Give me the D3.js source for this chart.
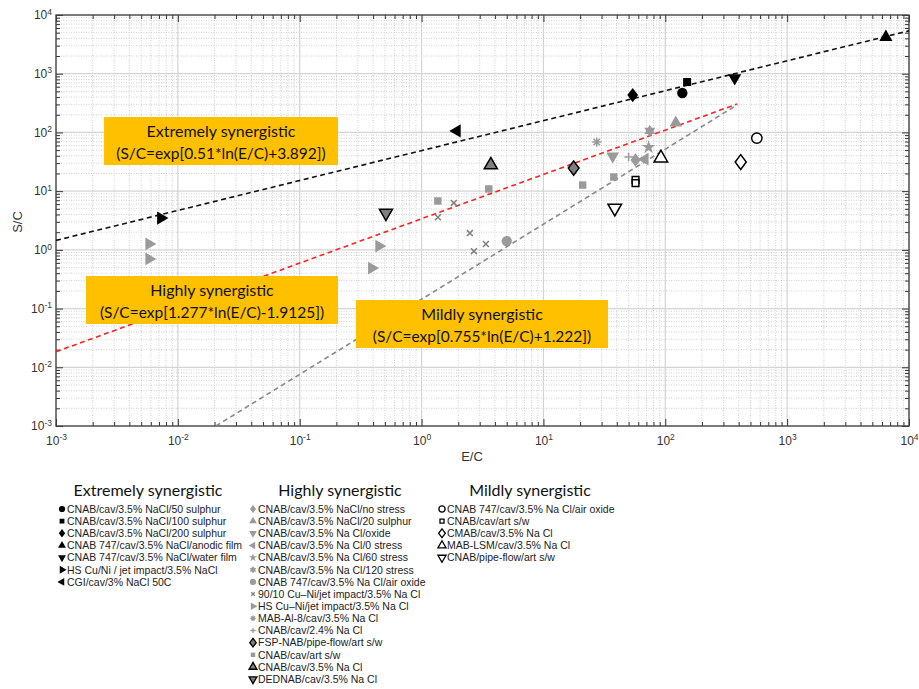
<!DOCTYPE html>
<html lang="en">
<meta charset="utf-8">
<head>
<script src="https://d3js.org/d3.v7.min.js"></script>
<style>
  body { margin: 0; background: #fff; }
  svg { display: block; }
  .tick text { font-family: "Liberation Sans", Arial, sans-serif; }
</style>
</head>
<body>
<svg id="chart" width="919" height="689"></svg>
<script>
// ---- data: [E/C, S/C] ----
// Extremely synergistic
var exS50 = [[138, 469]];
var exS100 = [[151, 723]];
var exS200 = [[54, 433]];
var exAnodic = [[6460, 4200]];
var exWater = [[371, 845]];
var exHsJet = [[0.00726, 3.48]];
var exCgi = [[1.95, 106]];
// Highly synergistic
var hiNoStress = [[57, 34]];
var hiS20 = [[122, 145]];
var hiOxide = [[37, 39.6]];
var hiStress0 = [[68, 35]];
var hiStress60 = [[73, 56]];
var hiStress120 = [[74.6, 106]];
var hiAirOxide = [[5.0, 1.41]];
var hiCuNi = [[1.36, 3.6], [1.84, 6.3], [2.49, 1.93], [3.37, 1.26], [2.69, 0.95]];
var hiHsCuNi = [[0.0058, 1.26], [0.0058, 0.70], [0.447, 1.16], [0.39, 0.49]];
var hiMab = [[27.4, 68.6]];
var hiNa24 = [[50, 38]];
var hiFsp = [[17.7, 24.7]];
var hiArt = [[1.36, 6.8], [3.56, 10.9], [21, 12.7], [37.8, 17.4]];
var hiNaCl = [[3.7, 27.9]];
var hiDed = [[0.51, 4.24]];
// Mildly synergistic
var miAirOxide = [[564, 80]];
var miArt = [[57, 15.5], [57, 13.7]];
var miCmab = [[416, 31.3]];
var miMabLsm = [[92, 36.6]];
var miPipe = [[38.5, 5.15]];

// fitted lines (end points)
var lineBlack = [[0.001, 1.45], [10000, 5370]];
var lineRed = [[0.001, 0.0184], [390, 306]];
var lineGray = [[0.0205, 0.001], [390, 296]];

var xTicks = [1e-3, 1e-2, 1e-1, 1e0, 1e1, 1e2, 1e3, 1e4];
var yTicks = [1e-3, 1e-2, 1e-1, 1e0, 1e1, 1e2, 1e3, 1e4];

var boxTexts = [
  ["Extremely synergistic", "(S/C=exp[0.51*ln(E/C)+3.892])"],
  ["Highly synergistic", "(S/C=exp[1.277*ln(E/C)-1.9125])"],
  ["Mildly synergistic", "(S/C=exp[0.755*ln(E/C)+1.222])"]
];

// ---- custom marker shapes ----
var hexagram = { draw: function(c, size) {
  var r = Math.sqrt(size) * 0.72, ri = r * 0.58;
  for (var i = 0; i < 12; i++) {
    var a = Math.PI / 6 * i - Math.PI / 2, rr = i % 2 ? ri : r;
    if (i === 0) c.moveTo(rr * Math.cos(a), rr * Math.sin(a));
    else c.lineTo(rr * Math.cos(a), rr * Math.sin(a));
  }
  c.closePath();
}};
var diamond = { draw: function(c, size) {
  var h = Math.sqrt(size) * 0.8, w = h * 0.75;
  c.moveTo(0, -h); c.lineTo(w, 0); c.lineTo(0, h); c.lineTo(-w, 0); c.closePath();
}};
var xMark = { draw: function(c, size) {
  var r = Math.sqrt(size) * 0.42;
  c.moveTo(-r, -r); c.lineTo(r, r); c.moveTo(-r, r); c.lineTo(r, -r);
}};
var plusMark = { draw: function(c, size) {
  var r = Math.sqrt(size) * 0.55;
  c.moveTo(-r, 0); c.lineTo(r, 0); c.moveTo(0, -r); c.lineTo(0, r);
}};
var asterisk = { draw: function(c, size) {
  var r = Math.sqrt(size) * 0.55;
  for (var i = 0; i < 4; i++) {
    var a = Math.PI / 4 * i;
    c.moveTo(-r * Math.cos(a), -r * Math.sin(a)); c.lineTo(r * Math.cos(a), r * Math.sin(a));
  }
}};

var BLK = "#000", GRY = "#9a9a9a", DGRY = "#7f7f7f";

// group, label, points, shape, rotation, fill, stroke, size
var series = [
  [0, "CNAB/cav/3.5% NaCl/50 sulphur", exS50, d3.symbolCircle, 0, BLK, "none", 85],
  [0, "CNAB/cav/3.5% NaCl/100 sulphur", exS100, d3.symbolSquare, 0, BLK, "none", 64],
  [0, "CNAB/cav/3.5% NaCl/200 sulphur", exS200, diamond, 0, BLK, "none", 80],
  [0, "CNAB 747/cav/3.5% NaCl/anodic film", exAnodic, d3.symbolTriangle, 0, BLK, "none", 75],
  [0, "CNAB 747/cav/3.5% NaCl/water film", exWater, d3.symbolTriangle, 180, BLK, "none", 75],
  [0, "HS Cu/Ni / jet impact/3.5% NaCl", exHsJet, d3.symbolTriangle, 90, BLK, "none", 75],
  [0, "CGI/cav/3% NaCl 50C", exCgi, d3.symbolTriangle, -90, BLK, "none", 75],
  [1, "CNAB/cav/3.5% NaCl/no stress", hiNoStress, diamond, 0, GRY, "none", 70],
  [1, "CNAB/cav/3.5% NaCl/20 sulphur", hiS20, d3.symbolTriangle, 0, GRY, "none", 70],
  [1, "CNAB/cav/3.5% Na Cl/oxide", hiOxide, d3.symbolTriangle, 180, GRY, "none", 70],
  [1, "CNAB/cav/3.5% Na Cl/0 stress", hiStress0, d3.symbolTriangle, -90, GRY, "none", 70],
  [1, "CNAB/cav/3.5% Na Cl/60 stress", hiStress60, d3.symbolStar, 0, GRY, "none", 60],
  [1, "CNAB/cav/3.5% Na Cl/120 stress", hiStress120, hexagram, 0, GRY, "none", 75],
  [1, "CNAB 747/cav/3.5% Na Cl/air oxide", hiAirOxide, d3.symbolCircle, 0, GRY, "none", 85],
  [1, "90/10 Cu\u2013Ni/jet impact/3.5% Na Cl", hiCuNi, xMark, 0, "none", DGRY, 50],
  [1, "HS Cu\u2013Ni/jet impact/3.5% Na Cl", hiHsCuNi, d3.symbolTriangle, 90, GRY, "none", 70],
  [1, "MAB-Al-8/cav/3.5% Na Cl", hiMab, asterisk, 0, "none", GRY, 70],
  [1, "CNAB/cav/2.4% Na Cl", hiNa24, plusMark, 0, "none", GRY, 60],
  [1, "FSP-NAB/pipe-flow/art s/w", hiFsp, diamond, 0, DGRY, BLK, 80],
  [1, "CNAB/cav/art s/w", hiArt, d3.symbolSquare, 0, GRY, "none", 55],
  [1, "CNAB/cav/3.5% Na Cl", hiNaCl, d3.symbolTriangle, 0, DGRY, BLK, 75],
  [1, "DEDNAB/cav/3.5% Na Cl", hiDed, d3.symbolTriangle, 180, DGRY, BLK, 75],
  [2, "CNAB 747/cav/3.5% Na Cl/air oxide", miAirOxide, d3.symbolCircle, 0, "#fff", BLK, 85],
  [2, "CNAB/cav/art s/w", miArt, d3.symbolSquare, 0, "#fff", BLK, 45],
  [2, "CMAB/cav/3.5% Na Cl", miCmab, diamond, 0, "#fff", BLK, 85],
  [2, "MAB-LSM/cav/3.5% Na Cl", miMabLsm, d3.symbolTriangle, 0, "#fff", BLK, 80],
  [2, "CNAB/pipe-flow/art s/w", miPipe, d3.symbolTriangle, 180, "#fff", BLK, 80]
];

var svg = d3.select("#chart");
var pL = 56, pR = 909, pT = 15, pB = 426;

var x = d3.scaleLog().domain([1e-3, 1e4]).range([pL, pR]);
var y = d3.scaleLog().domain([1e-3, 1e4]).range([pB, pT]);

svg.append("rect").attr("width", 919).attr("height", 689).attr("fill", "#fff");

// minor ticks / grid values
var minors = [];
for (var e = -3; e < 4; e++) for (var m = 2; m <= 9; m++) minors.push(m * Math.pow(10, e));

var grid = svg.append("g");
grid.selectAll(".gxm").data(minors).enter().append("line")
  .attr("x1", function(d) { return x(d); }).attr("x2", function(d) { return x(d); })
  .attr("y1", pT).attr("y2", pB)
  .attr("stroke", "#c4c4c4").attr("stroke-width", 0.8).attr("stroke-dasharray", "1,1.5");
grid.selectAll(".gym").data(minors).enter().append("line")
  .attr("y1", function(d) { return y(d); }).attr("y2", function(d) { return y(d); })
  .attr("x1", pL).attr("x2", pR)
  .attr("stroke", "#c4c4c4").attr("stroke-width", 0.8).attr("stroke-dasharray", "1,1.5");
grid.selectAll(".gx").data(xTicks).enter().append("line")
  .attr("x1", function(d) { return x(d); }).attr("x2", function(d) { return x(d); })
  .attr("y1", pT).attr("y2", pB)
  .attr("stroke", "#d4d4d4").attr("stroke-width", 1.2);
grid.selectAll(".gy").data(yTicks).enter().append("line")
  .attr("y1", function(d) { return y(d); }).attr("y2", function(d) { return y(d); })
  .attr("x1", pL).attr("x2", pR)
  .attr("stroke", "#d4d4d4").attr("stroke-width", 1.2);

// axes with inward ticks
function styleAxis(g) {
  g.select(".domain").remove();
  g.selectAll(".tick line").attr("stroke", "#333").attr("stroke-width", 1);
}
function supLabels(g) {
  g.selectAll(".tick text").each(function(d) {
    var t = d3.select(this).text("").attr("fill", "#333").attr("font-size", 12);
    t.append("tspan").text("10");
    t.append("tspan").text(Math.round(Math.log10(d)))
      .attr("font-size", 8.5).attr("dy", "-0.55em");
  });
}

svg.append("g").attr("transform", "translate(0," + pB + ")")
  .call(d3.axisBottom(x).tickValues(minors).tickSize(-4).tickFormat("")).call(styleAxis);
svg.append("g").attr("transform", "translate(0," + pB + ")")
  .call(d3.axisBottom(x).tickValues(xTicks).tickSize(-7).tickPadding(10).tickFormat(function() { return ""; }))
  .call(styleAxis).call(supLabels);
svg.append("g").attr("transform", "translate(0," + pT + ")")
  .call(d3.axisTop(x).tickValues(minors).tickSize(-4).tickFormat("")).call(styleAxis);
svg.append("g").attr("transform", "translate(0," + pT + ")")
  .call(d3.axisTop(x).tickValues(xTicks).tickSize(-7).tickFormat("")).call(styleAxis);

svg.append("g").attr("transform", "translate(" + pL + ",0)")
  .call(d3.axisLeft(y).tickValues(minors).tickSize(-4).tickFormat("")).call(styleAxis);
svg.append("g").attr("transform", "translate(" + pL + ",0)")
  .call(d3.axisLeft(y).tickValues(yTicks).tickSize(-7).tickPadding(4).tickFormat(function() { return ""; }))
  .call(styleAxis).call(supLabels);
svg.append("g").attr("transform", "translate(" + pR + ",0)")
  .call(d3.axisRight(y).tickValues(minors).tickSize(-4).tickFormat("")).call(styleAxis);
svg.append("g").attr("transform", "translate(" + pR + ",0)")
  .call(d3.axisRight(y).tickValues(yTicks).tickSize(-7).tickFormat("")).call(styleAxis);

svg.append("rect").attr("x", pL).attr("y", pT)
  .attr("width", pR - pL).attr("height", pB - pT)
  .attr("fill", "none").attr("stroke", "#404040").attr("stroke-width", 1.3);

// axis titles
svg.append("text").attr("x", 472).attr("y", 461).attr("text-anchor", "middle")
  .attr("font-family", "Liberation Sans, Arial, sans-serif").attr("font-size", 13).attr("fill", "#333")
  .text("E/C");
svg.append("text").attr("transform", "translate(22,222) rotate(-90)").attr("text-anchor", "middle")
  .attr("font-family", "Liberation Sans, Arial, sans-serif").attr("font-size", 13).attr("fill", "#333")
  .text("S/C");

// fitted lines
var line = d3.line().x(function(d) { return x(d[0]); }).y(function(d) { return y(d[1]); });
[[lineBlack, "#111"], [lineRed, "#ff2020"], [lineGray, "#8a8a8a"]].forEach(function(l) {
  svg.append("path").attr("d", line(l[0])).attr("fill", "none")
    .attr("stroke", l[1]).attr("stroke-width", 1.6).attr("stroke-dasharray", "5,3.5");
});

// annotation boxes
var boxes = [[104, 117, 234, 48], [86, 276, 252, 48], [356, 300, 252, 48]];
boxes.forEach(function(b, i) {
  svg.append("rect").attr("x", b[0]).attr("y", b[1]).attr("width", b[2]).attr("height", b[3])
    .attr("fill", "#ffc000");
  var t = svg.append("text").attr("text-anchor", "middle")
    .attr("font-family", "Lato, 'Open Sans', sans-serif").attr("font-size", 15.5).attr("fill", "#111");
  t.append("tspan").attr("x", b[0] + b[2] / 2).attr("y", b[1] + 20).text(boxTexts[i][0])
    .attr("font-size", 16);
  t.append("tspan").attr("x", b[0] + b[2] / 2).attr("y", b[1] + 42).text(boxTexts[i][1]);
});

// data markers
function markerPath(s, scale) {
  return d3.symbol().type(s[3]).size(s[7] * scale)();
}
series.forEach(function(s) {
  svg.append("g").selectAll("path").data(s[2]).enter().append("path")
    .attr("d", markerPath(s, 1))
    .attr("transform", function(d) { return "translate(" + x(d[0]) + "," + y(d[1]) + ") rotate(" + s[4] + ")"; })
    .attr("fill", s[5]).attr("stroke", s[6])
    .attr("stroke-width", s[6] === "none" ? 0 : 1.5);
});

// legend
var legTitles = ["Extremely synergistic", "Highly synergistic", "Mildly synergistic"];
var legX = [62, 253, 442];
var legTitleX = [148, 340, 530];
legTitles.forEach(function(t, i) {
  svg.append("text").attr("x", legTitleX[i]).attr("y", 496).attr("text-anchor", "middle")
    .attr("font-family", "Lato, 'Open Sans', sans-serif").attr("font-size", 16).attr("fill", "#111")
    .text(t);
});
var counts = [0, 0, 0];
series.forEach(function(s) {
  var g = s[0], row = counts[g]++;
  var yy = 509 + row * 12.15;
  svg.append("path").attr("d", markerPath(s, 0.36))
    .attr("transform", "translate(" + legX[g] + "," + yy + ") rotate(" + s[4] + ")")
    .attr("fill", s[5]).attr("stroke", s[6])
    .attr("stroke-width", s[6] === "none" ? 0 : 1.3);
  svg.append("text").attr("x", legX[g] + 5).attr("y", yy + 3.8)
    .attr("font-family", "Liberation Sans, Arial, sans-serif").attr("font-size", 10.5).attr("fill", "#222")
    .text(s[1]);
});
</script>
</body>
</html>
